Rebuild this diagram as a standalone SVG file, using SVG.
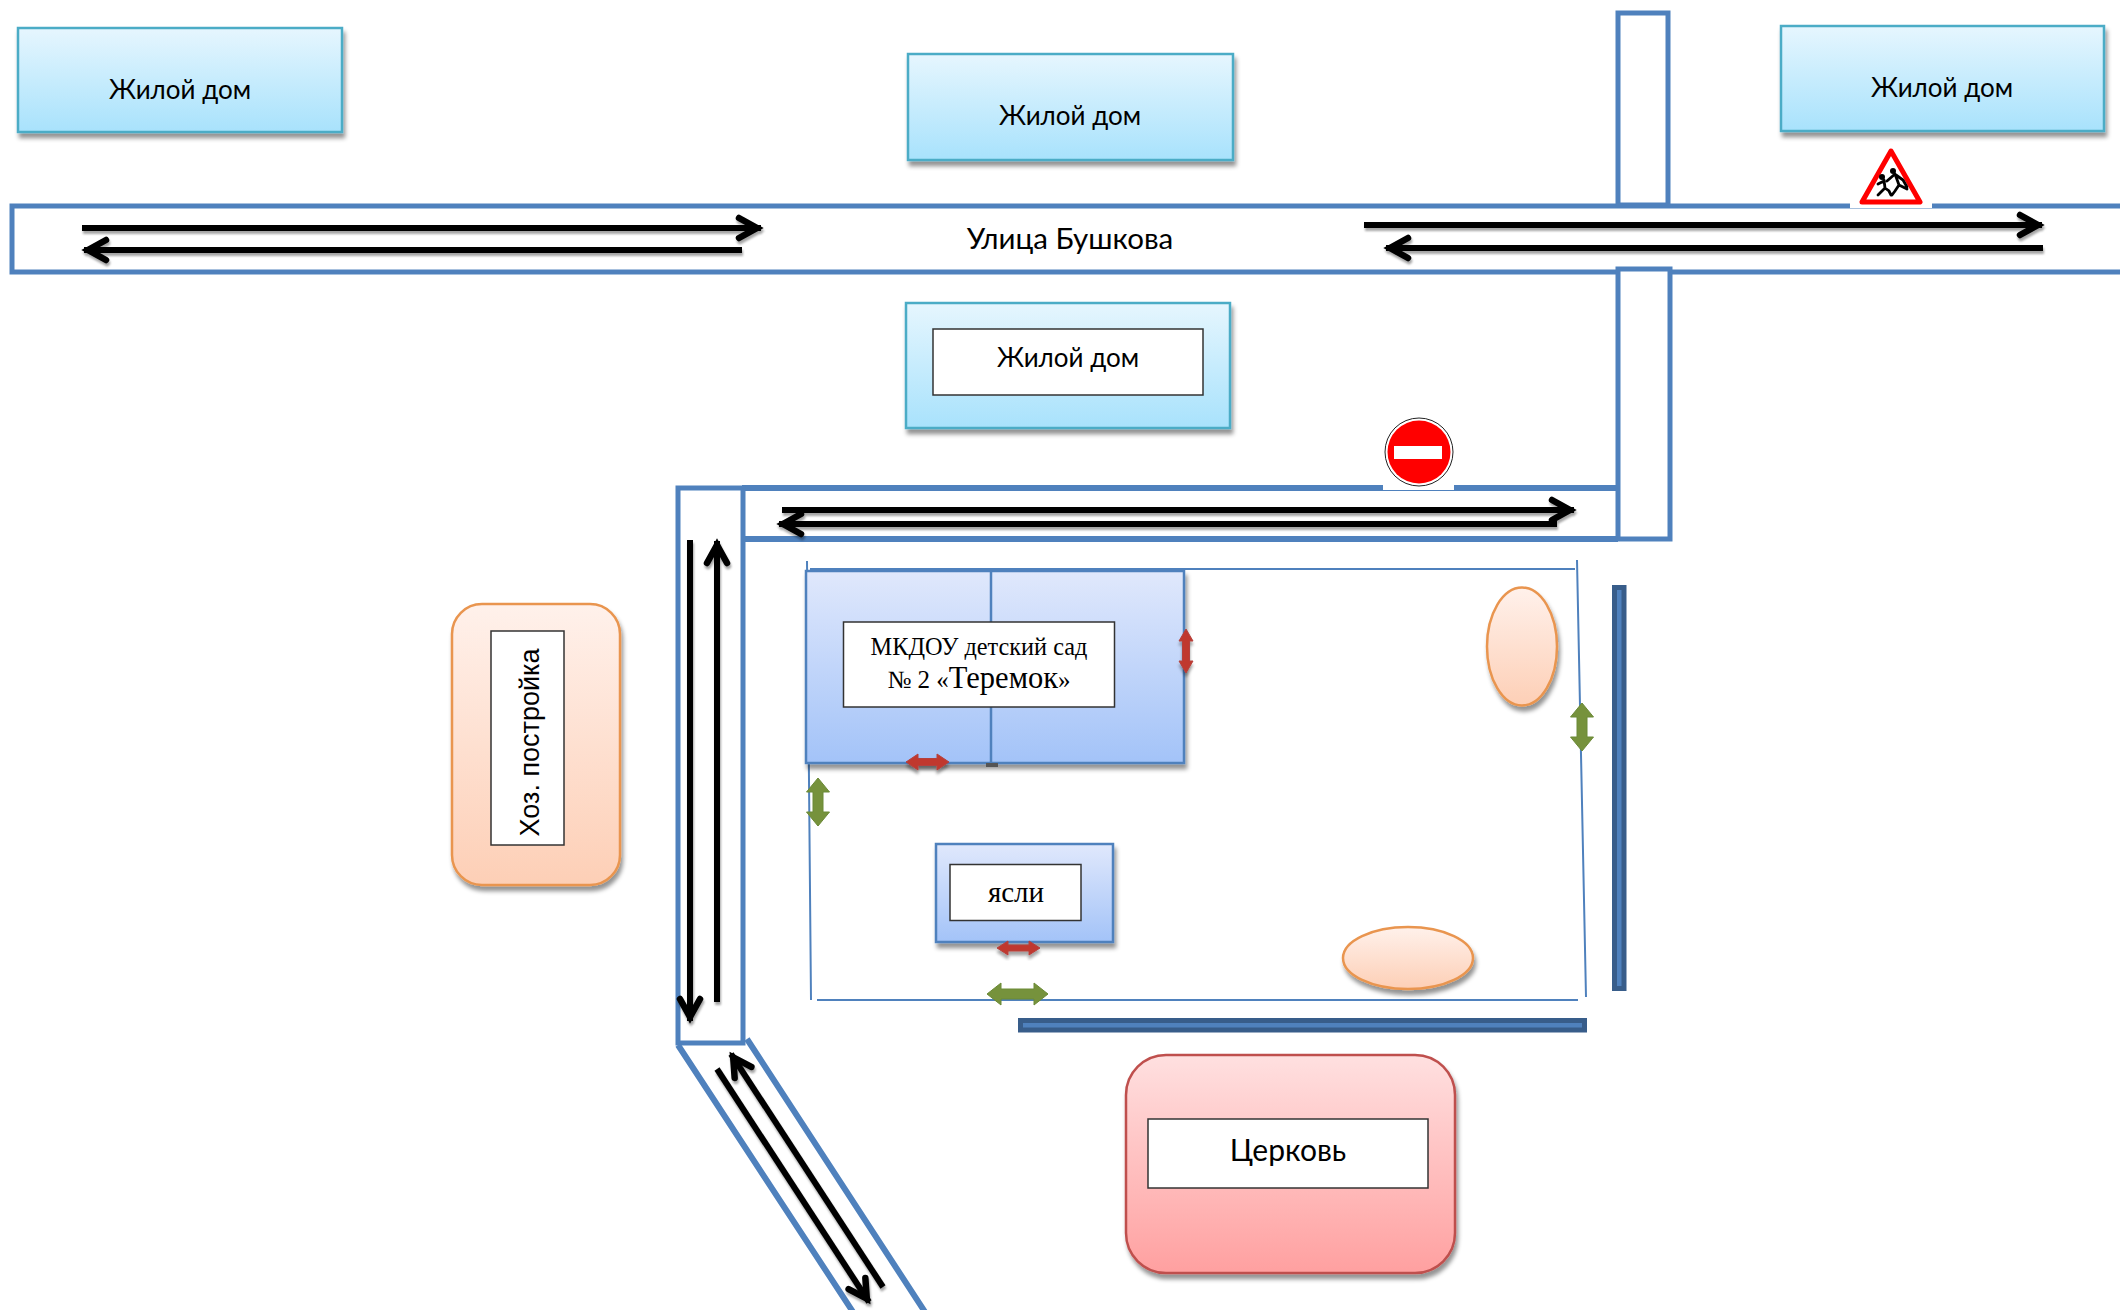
<svg xmlns="http://www.w3.org/2000/svg" width="2120" height="1310" viewBox="0 0 2120 1310">
<style>
.road{fill:#fff;stroke:#4f81bd;stroke-width:5}
.rl{fill:none;stroke:#4f81bd;stroke-width:6}
.fence{fill:none;stroke:#4f81bd;stroke-width:2}
.bar{fill:#4f81bd;stroke:#385d8a;stroke-width:5}
.house{fill:url(#gCyan);stroke:#4bacc6;stroke-width:2.5;filter:url(#sh)}
.bld{fill:url(#gBlue);stroke:#4f81bd;stroke-width:2.5;filter:url(#sh)}
.orange{fill:url(#gOrange);stroke:#e9954f;stroke-width:2.5;filter:url(#sh)}
.church{fill:url(#gRed);stroke:#bf504d;stroke-width:2.5;filter:url(#sh)}
.box{fill:#fff;stroke:#333;stroke-width:1.5}
.t{font-family:"Lato","Liberation Sans",sans-serif;font-size:26px;fill:#000;text-anchor:middle}
.s{font-family:"Liberation Serif",serif;fill:#000;text-anchor:middle}
.a{fill:none;stroke:#000;stroke-width:6}
.ar{fill:#c0392f;stroke:#b5403c;stroke-width:1;filter:url(#shs)}
.ag{fill:#76923c;stroke:#6b8a36;stroke-width:1}
</style>
<defs>
<linearGradient id="gCyan" x1="0" y1="0" x2="0" y2="1"><stop offset="0" stop-color="#e6f6fe"/><stop offset="1" stop-color="#a8e2fc"/></linearGradient>
<linearGradient id="gBlue" x1="0" y1="0" x2="0" y2="1"><stop offset="0" stop-color="#e0e8fc"/><stop offset="1" stop-color="#a3c3f8"/></linearGradient>
<linearGradient id="gOrange" x1="0" y1="0" x2="0" y2="1"><stop offset="0" stop-color="#fff1eb"/><stop offset="1" stop-color="#fdcfb6"/></linearGradient>
<linearGradient id="gRed" x1="0" y1="0" x2="0" y2="1"><stop offset="0" stop-color="#ffe0e0"/><stop offset="1" stop-color="#ffa0a0"/></linearGradient>
<filter id="sh" x="-10%" y="-10%" width="120%" height="125%"><feDropShadow dx="2" dy="5" stdDeviation="2" flood-color="#000" flood-opacity="0.42"/></filter>
<filter id="shs" x="-30%" y="-30%" width="160%" height="170%"><feDropShadow dx="0" dy="4" stdDeviation="1.5" flood-color="#000" flood-opacity="0.35"/></filter>
<filter id="sha" x="-5%" y="-5%" width="110%" height="110%"><feDropShadow dx="1" dy="3" stdDeviation="1" flood-color="#000" flood-opacity="0.35"/></filter>
<marker id="ah" markerUnits="userSpaceOnUse" markerWidth="36" markerHeight="34" refX="33" refY="15" viewBox="0 0 36 34" orient="auto-start-reverse"><path d="M11 5 L29 15 L11 25" fill="none" stroke="#000" stroke-width="6.500" stroke-linecap="round" stroke-linejoin="miter"/></marker>
</defs>
<rect width="2120" height="1310" fill="#fff"/>

<g id="roads">
<rect id="road-main" class="road" x="12" y="206" width="2125" height="66"/>
<rect id="road-north" class="road" x="1618" y="13" width="50" height="192"/>
<path id="road-yard" class="rl" d="M742 488H1618M742 539H1618"/>
<rect id="road-south" class="road" x="1618" y="269" width="52" height="270"/>
<rect id="road-west" class="road" x="678" y="488" width="65" height="555"/>
<path id="road-diag" class="rl" d="M678 1045L853 1312M747 1039L925 1312"/>
</g>

<g id="fence">
<path class="fence" d="M807 561L811 1000M810 569H1575M1577 560L1586 997M817 1000H1578"/>
<rect class="bar" x="1614.5" y="587.5" width="9.5" height="401"/>
<rect class="bar" x="1020.5" y="1020.5" width="564" height="9.5"/>
</g>

<g id="house-1"><rect class="house" x="18" y="28" width="324" height="104"/><text class="t" x="180" y="99">Жилой дом</text></g>
<g id="house-2"><rect class="house" x="908" y="54" width="325" height="106"/><text class="t" x="1070" y="125">Жилой дом</text></g>
<g id="house-3"><rect class="house" x="1781" y="26" width="323" height="105"/><text class="t" x="1942" y="97">Жилой дом</text></g>
<g id="house-4"><rect class="house" x="906" y="303" width="324" height="125"/><rect class="box" x="933" y="329" width="270" height="66"/><text class="t" x="1068" y="367">Жилой дом</text></g>
<g id="street-label"><text class="t" x="1070" y="249" style="font-size:29.500px">Улица Бушкова</text></g>

<g id="kindergarten">
<rect class="bld" x="806" y="571" width="378" height="192"/>
<path d="M991 571V763" stroke="#4f81bd" stroke-width="2.5" fill="none"/>
<path d="M986 763h12v4h-12z" fill="#555"/>
<rect class="box" x="843.500" y="622" width="271" height="85"/>
<text class="s" x="979" y="655" font-size="24.300">МКДОУ детский сад</text>
<text class="s" x="979" y="688"><tspan font-size="25">№ 2 «</tspan><tspan font-size="30.500">Теремок</tspan><tspan font-size="25">»</tspan></text>
</g>

<g id="nursery">
<rect class="bld" x="936" y="844" width="177" height="98"/>
<rect class="box" x="950" y="864.500" width="131" height="56"/>
<text class="s" x="1016" y="902" font-size="29">ясли</text>
</g>

<g id="shed">
<rect class="orange" x="452" y="604" width="168" height="281" rx="30"/>
<rect class="box" x="491" y="631" width="73" height="214"/>
<text transform="translate(539 742.500) rotate(-90)" font-family="Liberation Sans, sans-serif" font-size="27" text-anchor="middle" fill="#000">Хоз. постройка</text>
</g>

<g id="church">
<rect class="church" x="1126" y="1055" width="329" height="218" rx="40"/>
<rect class="box" x="1148" y="1119" width="280" height="69"/>
<text class="t" x="1288" y="1161" style="font-size:30px">Церковь</text>
</g>

<g id="tree-1"><ellipse class="orange" cx="1522" cy="646.500" rx="35" ry="59"/></g>
<g id="tree-2"><ellipse class="orange" cx="1408" cy="958" rx="65" ry="31"/></g>

<g id="connectors" filter="url(#sha)">
<path class="a" d="M82 228H761" marker-end="url(#ah)"/>
<path class="a" d="M742 250H84" marker-end="url(#ah)"/>
<path class="a" d="M1364 225H2042" marker-end="url(#ah)"/>
<path class="a" d="M2043 248H1386" marker-end="url(#ah)"/>
<path class="a" d="M782 510H1574" marker-end="url(#ah)"/>
<path class="a" d="M1557 524H779" marker-end="url(#ah)"/>
<path class="a" d="M690 540V1021" marker-end="url(#ah)"/>
<path class="a" d="M717 1002V541" marker-end="url(#ah)"/>
<path class="a" d="M883 1287L731 1054" marker-end="url(#ah)"/>
<path class="a" d="M717 1069L869 1302" marker-end="url(#ah)"/>
</g>

<g id="door-arrows">
<path class="ar" d="M1186 629L1193 641H1189.500V661H1193L1186 673L1179 661H1182.500V641H1179Z"/>
<path class="ar" d="M906 762L918 754V758.500H937V754L949 762L937 770V765.500H918V770Z"/>
<path class="ar" d="M997 948L1008 941V945H1029V941L1040 948L1029 955V951H1008V955Z"/>
<path class="ag" d="M818 778L829.500 792H823V812H829.500L818 826L806.500 812H813V792H806.500Z"/>
<path class="ag" d="M1582 703L1593.500 717H1587V737H1593.500L1582 751L1570.500 737H1577V717H1570.500Z"/>
<path class="ag" d="M987 994L1001 983V989H1034V983L1048 994L1034 1005V999H1001V1005Z"/>
</g>

<g id="sign-no-entry">
<rect x="1383" y="485" width="71" height="5" fill="#fff"/>
<circle cx="1419" cy="452" r="34" fill="#fff" stroke="#222" stroke-width="1"/>
<circle cx="1419" cy="452" r="31.500" fill="#f00"/>
<rect x="1394" y="446" width="48" height="13" fill="#fff"/>
</g>

<g id="sign-children">
<rect x="1850" y="203" width="82" height="5" fill="#fff"/>
<path d="M1891 151L1920 202H1862Z" fill="#fff" stroke="#f00" stroke-width="5" stroke-linejoin="round"/>
<path d="M1895 174L1899 185L1907 189M1899 185L1895 191L1892 195M1895 174L1887 181M1896 175L1903 180L1907 187M1884 180L1885 188L1878 195M1885 188L1889 191L1891 195M1884 181L1878 184" fill="none" stroke="#000" stroke-width="2.800" stroke-linecap="round"/>
<circle cx="1882" cy="177" r="3" fill="#000"/>
<circle cx="1893" cy="171" r="3" fill="#000"/>
</g>
</svg>
